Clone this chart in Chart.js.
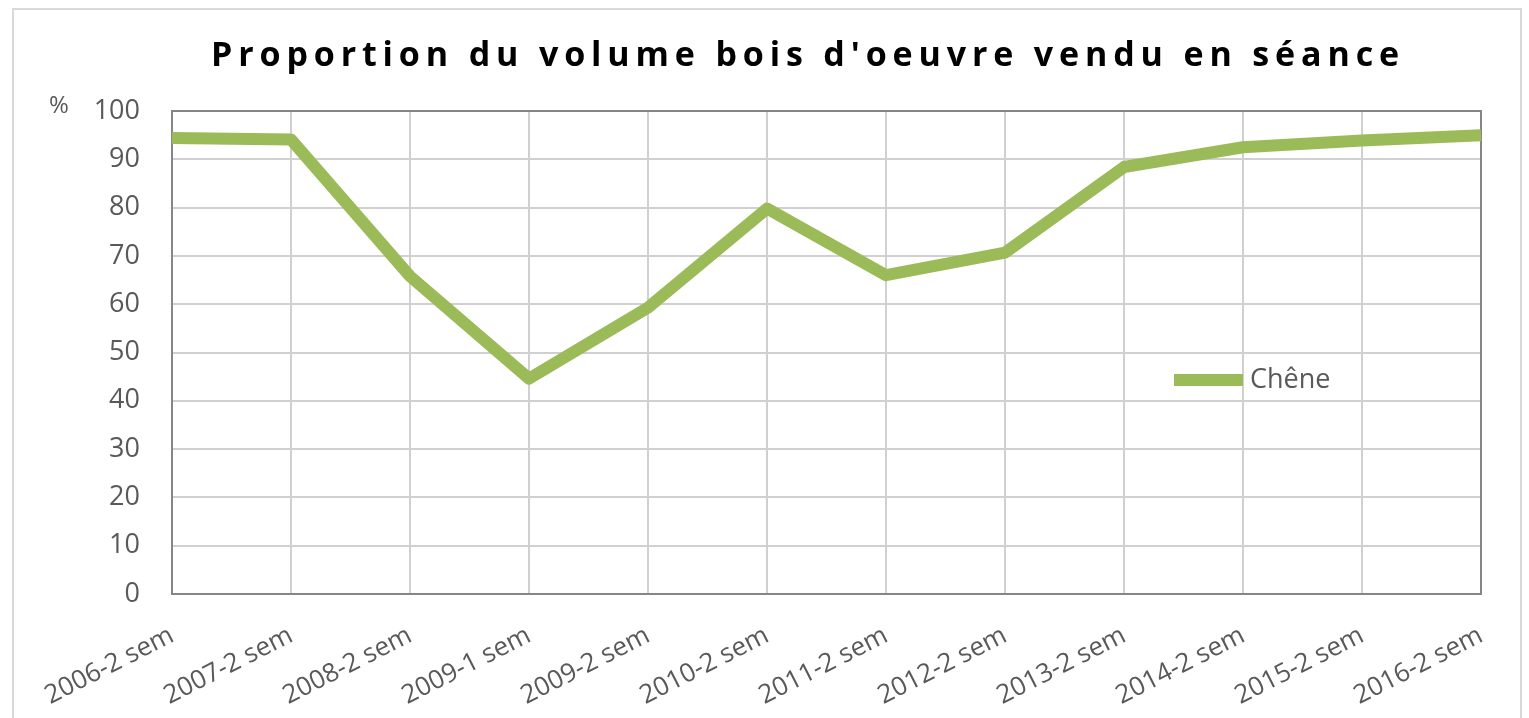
<!DOCTYPE html>
<html>
<head>
<meta charset="utf-8">
<script src="https://cdn.jsdelivr.net/npm/chart.js@4/dist/chart.umd.min.js"></script>
<style>
  html, body { margin: 0; padding: 0; background: #ffffff; }
  #wrap { position: relative; width: 1529px; height: 718px; }
  canvas { display: block; }
</style>
</head>
<body>
<div id="wrap"><canvas id="c" width="1529" height="718"></canvas></div>
<script>
const titleText = "Proportion du volume bois d'oeuvre vendu en séance";
const unitLabel = "%";
const categories = ["2006-2 sem", "2007-2 sem", "2008-2 sem", "2009-1 sem", "2009-2 sem", "2010-2 sem",
                    "2011-2 sem", "2012-2 sem", "2013-2 sem", "2014-2 sem", "2015-2 sem", "2016-2 sem"];
const seriesName = "Chêne";
const chene = [94.4, 94.1, 65.8, 44.6, 59.3, 79.8, 66.0, 70.7, 88.4, 92.5, 93.9, 95.0];
const yTicks = [0, 10, 20, 30, 40, 50, 60, 70, 80, 90, 100];

const FONT = "'Open Sans', 'DejaVu Sans', sans-serif";
const GREEN = "#9bbb59";

const decorPlugin = {
  id: 'decor',
  beforeDraw(chart) {
    const ctx = chart.ctx;
    ctx.save();
    ctx.strokeStyle = '#d9d9d9';
    ctx.lineWidth = 2;
    ctx.strokeRect(13, 9, 1508, 730);
    ctx.restore();
  },
  beforeDatasetsDraw(chart) {
    const ctx = chart.ctx;
    const a = chart.chartArea;
    ctx.save();
    ctx.strokeStyle = '#868686';
    ctx.lineWidth = 2;
    ctx.strokeRect(a.left, a.top, a.right - a.left, a.bottom - a.top);
    ctx.restore();
  },
  afterDraw(chart) {
    const ctx = chart.ctx;
    ctx.save();
    // title
    ctx.font = "bold 34px " + FONT;
    ctx.fillStyle = '#000000';
    ctx.textBaseline = 'alphabetic';
    const n = titleText.length;
    const w0 = ctx.measureText(titleText).width;
    const target = 1188;
    const sp = (target - w0) / (n - 1);
    ctx.letterSpacing = sp.toFixed(2) + 'px';
    ctx.textAlign = 'left';
    ctx.fillText(titleText, 211, 66);
    ctx.letterSpacing = '0px';
    // unit label
    ctx.font = "24px " + FONT;
    ctx.fillStyle = '#595959';
    ctx.textAlign = 'left';
    ctx.textBaseline = 'middle';
    ctx.fillText(unitLabel, 49, 106);
    // legend
    const ds = chart.data.datasets[0];
    const ly = chart.scales.y.getPixelForValue(44.3);
    ctx.strokeStyle = ds.borderColor;
    ctx.lineWidth = ds.borderWidth;
    ctx.beginPath();
    ctx.moveTo(1174, ly);
    ctx.lineTo(1243, ly);
    ctx.stroke();
    ctx.font = "27px " + FONT;
    ctx.fillStyle = '#595959';
    ctx.textBaseline = 'middle';
    ctx.fillText(ds.label, 1250, ly);
    ctx.restore();
  }
};

new Chart(document.getElementById('c'), {
  type: 'line',
  data: {
    labels: categories,
    datasets: [{
      label: seriesName,
      data: chene,
      borderColor: GREEN,
      backgroundColor: GREEN,
      borderWidth: 12,
      pointRadius: 0,
      pointHoverRadius: 0,
      tension: 0,
      borderJoinStyle: 'round',
      borderCapStyle: 'butt',
      fill: false
    }]
  },
  options: {
    responsive: false,
    animation: false,
    events: [],
    layout: { padding: { left: 0, top: 111, right: 48, bottom: 0 } },
    plugins: {
      legend: { display: false },
      title: { display: false },
      tooltip: { enabled: false }
    },
    scales: {
      x: {
        offset: false,
        grid: { color: '#d0d0d0', lineWidth: 2, drawTicks: false },
        border: { display: false },
        afterFit(scale) { scale.height = 124; },
        ticks: {
          autoSkip: false,
          maxRotation: 27,
          minRotation: 27,
          padding: 26,
          color: '#595959',
          font: { family: FONT, size: 26 }
        }
      },
      y: {
        min: 0,
        max: 100,
        afterFit(scale) { scale.width = 172; },
        afterBuildTicks(scale) { scale.ticks = yTicks.map(v => ({ value: v })); },
        grid: { color: '#d0d0d0', lineWidth: 2, drawTicks: false },
        border: { display: false },
        ticks: {
          padding: 32,
          color: '#595959',
          font: { family: FONT, size: 27 }
        }
      }
    }
  },
  plugins: [decorPlugin]
});
</script>
</body>
</html>
